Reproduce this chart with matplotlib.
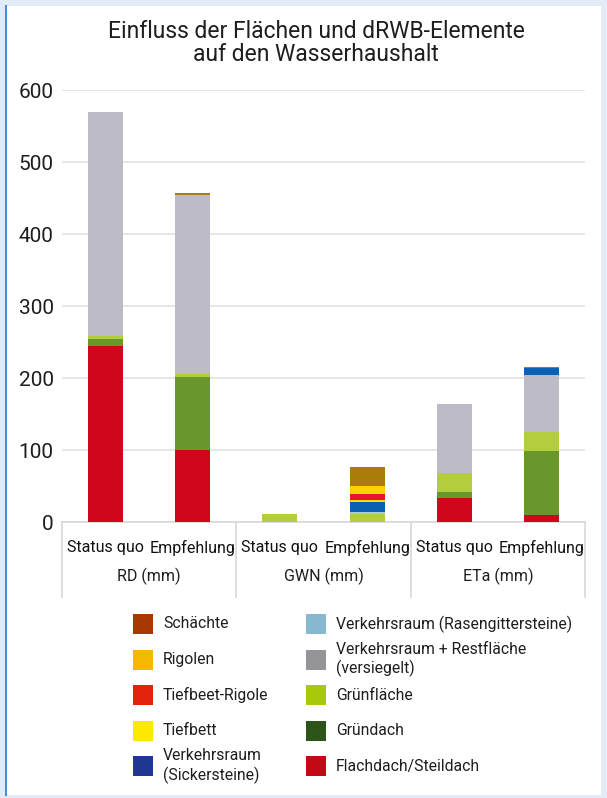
import matplotlib
matplotlib.use("Agg")
import matplotlib.pyplot as plt
from matplotlib.patches import Rectangle
from matplotlib.transforms import blended_transform_factory
import numpy as np

plt.rcParams['font.family'] = ['Roboto', 'DejaVu Sans']

# ---- data -------------------------------------------------------------
bar_labels = ["Status quo", "Empfehlung", "Status quo", "Empfehlung", "Status quo", "Empfehlung"]
group_labels = ["RD (mm)", "GWN (mm)", "ETa (mm)"]

series_names = [
    "Flachdach/Steildach",
    "Gründach",
    "Grünfläche",
    "Verkehrsraum + Restfläche\n(versiegelt)",
    "Verkehrsraum (Rasengittersteine)",
    "Verkehrsraum\n(Sickersteine)",
    "Tiefbett",
    "Tiefbeet-Rigole",
    "Rigolen",
    "Schächte",
]
flachdach       = [245, 100, 0, 0, 33, 10]
gruendach       = [9, 101, 0, 0, 8, 88]
gruenflaeche    = [5, 5, 11, 11, 27, 27]
versiegelt      = [311, 248, 0, 0, 96, 79]
rasengitter     = [0, 0, 0, 3, 0, 0]
sickersteine    = [0, 0, 0, 14, 0, 10]
tiefbett        = [0, 0, 0, 3, 0, 0]
tiefbeet_rigole = [0, 0, 0, 8, 0, 0]
rigolen         = [0, 0, 0, 11, 0, 0]
schaechte       = [0, 3, 0, 26, 0, 1]
series_values = [flachdach, gruendach, gruenflaeche, versiegelt, rasengitter,
                 sickersteine, tiefbett, tiefbeet_rigole, rigolen, schaechte]

# fill colours in the bars and the (more saturated) key colours
bar_colors = ["#d0071c", "#6a962e", "#b2cd3e", "#bdbbc5", "#a9c9e0",
              "#0b60b2", "#ffe000", "#e6162e", "#ffd000", "#a97c0c"]
key_colors = ["#c20a16", "#2d5518", "#a8c80a", "#949398", "#88b8d0",
              "#1f3790", "#fde800", "#e3230f", "#f5b800", "#a83800"]

# ---- figure -----------------------------------------------------------
W, H = 607, 798
fig = plt.figure(figsize=(W / 100, H / 100), dpi=100)
fig.patch.set_facecolor("#e3ebf7")

def fx(px):
    return px / W

def fy(py):
    return 1 - py / H

# white card with blue left rule
fig.add_artist(Rectangle((fx(6), fy(795)), fx(601) - fx(6), fy(6) - fy(795),
                         transform=fig.transFigure, facecolor="white",
                         edgecolor="none", zorder=0))
fig.add_artist(plt.Line2D([fx(6), fx(6)], [fy(795), fy(6)], transform=fig.transFigure,
                          color="#4a8fd8", lw=1.5, zorder=1))

fig.text(fx(316), fy(43), "Einfluss der Flächen und dRWB-Elemente\nauf den Wasserhaushalt",
         ha="center", va="center", fontsize=16.5, color="#1e1e1e", linespacing=1.05)

ax = fig.add_axes([fx(62), fy(522), fx(585) - fx(62), fy(90) - fy(522)])
ax.set_facecolor("none")

x = np.arange(len(bar_labels)) + 0.5
bottom = np.zeros(len(bar_labels))
for vals, col in zip(series_values, bar_colors):
    vals = np.asarray(vals, dtype=float)
    ax.bar(x, vals, width=0.4, bottom=bottom, color=col, edgecolor="none", zorder=3)
    bottom += vals

ax.set_xlim(0, 6)
ax.set_ylim(0, 600)
ax.set_yticks(np.arange(0, 601, 100))
ax.tick_params(axis="y", length=0, pad=6, labelsize=15, labelcolor="#1e1e1e")
ax.grid(axis="y", color="#e6e6e6", lw=1.4, zorder=0)
for s in ["top", "right", "left"]:
    ax.spines[s].set_visible(False)
ax.spines["bottom"].set_color("#d8d8d8")
ax.spines["bottom"].set_linewidth(1.2)

ax.set_xticks(x)
ax.set_xticklabels(bar_labels, fontsize=11.5, color="#111111")
ax.tick_params(axis="x", length=0, pad=13)

trans = blended_transform_factory(ax.transData, ax.transAxes)
ax_h = 522 - 90
for i, g in enumerate(group_labels):
    ax.text(2 * i + 1, -(576 - 522) / ax_h, g, transform=trans, ha="center", va="center",
            fontsize=11.5, color="#1e1e1e")
for d in range(0, 7, 2):
    ax.plot([d, d], [0, -(597 - 522) / ax_h], transform=trans, color="#d8d8d8",
            lw=1.2, clip_on=False)

# ---- key --------------------------------------------------------------
order = list(range(len(series_names)))[::-1]
for k, idx in enumerate(order):
    col_i, row_i = divmod(k, 5)
    sx = 133 if col_i == 0 else 306
    cy = 624 + 35.5 * row_i
    fig.add_artist(Rectangle((fx(sx), fy(cy + 10)), fx(20), 20 / H,
                             transform=fig.transFigure, facecolor=key_colors[idx],
                             edgecolor="none"))
    fig.text(fx(sx + 30), fy(cy), series_names[idx], ha="left", va="center",
             fontsize=11.3, color="#1e1e1e", linespacing=1.25)

fig.savefig("out.png", dpi=100, facecolor=fig.get_facecolor())
